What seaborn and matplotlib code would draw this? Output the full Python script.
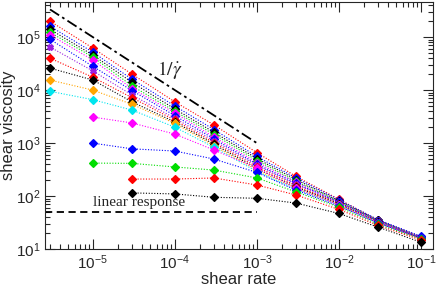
import matplotlib
matplotlib.use('Agg')
import matplotlib.pyplot as plt
import numpy as np
import pandas as pd
import seaborn as sns

# shear rates (columns of the measurement grid)
rates = [3e-6, 1e-5, 3e-5, 1e-4, 3e-4, 1e-3, 3e-3, 1e-2, 3e-2, 1e-1]

# viscosity curves, top to bottom; the lower ones start at higher rates
visc_01 = [2.0e5, 6.2e4, 2.0e4, 6.0e3, 2.2e3, 660, 235, 87, 35, 17]
visc_02 = [1.6e5, 5.2e4, 1.6e4, 5.0e3, 1.8e3, 560, 220, 85, 36, 17.5]
visc_03 = [1.4e5, 4.6e4, 1.4e4, 4.4e3, 1.6e3, 510, 205, 81, 35, 16.5]
visc_04 = [1.23e5, 4.2e4, 1.2e4, 4.0e3, 1.45e3, 470, 190, 79, 34, 16]
visc_05 = [1.1e5, 3.7e4, 1.07e4, 3.7e3, 1.3e3, 430, 182, 77, 34, 16]
visc_06 = [9.1e4, 2.8e4, 9.8e3, 3.3e3, 1.2e3, 400, 174, 76, 34, 16.5]
visc_07 = [6.5e4, 2.3e4, 8.1e3, 2.95e3, 1.1e3, 380, 166, 74, 33, 16.5]
visc_08 = [4.0e4, 1.75e4, 7.2e3, 2.7e3, 1.02e3, 355, 158, 72, 32, 15.8]
visc_09 = [2.6e4, 1.55e4, 6.0e3, 2.5e3, 950, 330, 148, 71, 32, 15.8]
visc_10 = [1.55e4, 1.0e4, 5.4e3, 2.35e3, 890, 310, 141, 69, 31.6, 15.8]
visc_11 = [9.5e3, 6.6e3, 4.2e3, 2.0e3, 830, 290, 135, 68, 31.6, 15.8]
visc_12 = [3.1e3, 2.4e3, 1.48e3, 740, 340, 141, 68, 31.6, 15.8]
visc_13 = [1.0e3, 780, 710, 500, 280, 129, 65, 31, 16.2]
visc_14 = [420, 415, 355, 310, 220, 120, 62, 29.5, 15.5]
visc_15 = [210, 210, 220, 162, 105, 56, 28, 14.8]
visc_16 = [115, 110, 95, 91, 74, 47, 26, 13.5]

curves = [visc_01, visc_02, visc_03, visc_04, visc_05, visc_06, visc_07, visc_08,
          visc_09, visc_10, visc_11, visc_12, visc_13, visc_14, visc_15, visc_16]
colors = ['#ff0000', '#0000ff', '#000000', '#00dd00', '#ff00ff', '#0000ff', '#9a1ee0', '#ff0000',
          '#000000', '#ffa500', '#00e5ee', '#ff00ff', '#0000ff', '#00dd00', '#ff0000', '#000000']
markers = ['D', 'D', 'D', 'D', 'D', 'D', 'X', 'D', 'D', 'D', 'D', 'D', 'D', 'D', 'D', 'D']

guide_x = [3e-6, 1e-3]
linear_x = [2.6e-6, 1e-3]
linear_level = 50


def build_df():
    rows = []
    for i, c in enumerate(curves):
        xs = rates[len(rates) - len(c):]
        for x, v in zip(xs, c):
            rows.append({'curve': i, 'rate': x, 'visc': v})
    return pd.DataFrame(rows)


sns.set_style('ticks')
plt.rcParams['font.family'] = ['Liberation Sans', 'DejaVu Sans']
plt.rcParams['mathtext.fontset'] = 'custom'
plt.rcParams['mathtext.rm'] = 'Liberation Sans'

fig = plt.figure(figsize=(4.36, 2.87), dpi=100)
ax = fig.add_axes([0.103, 0.132, 0.890, 0.861])

df = build_df()
for i in range(len(curves)):
    sub = df[df.curve == i]
    sns.lineplot(data=sub, x='rate', y='visc', color=colors[i], marker=markers[i],
                 linestyle=(0, (1, 1.5)), lw=0.8, markersize=3.8,
                 markeredgecolor=colors[i], markeredgewidth=0.9,
                 ax=ax, legend=False)

gx = np.array(guide_x)
ax.plot(gx, 1.0 / gx, color='black', lw=1.3, linestyle=(0, (6, 2, 1.5, 2)))
ax.plot(linear_x, [linear_level, linear_level], color='black', lw=1.3, linestyle=(0, (4, 2.5)))

ax.text(6e-5, 2.4e4, r'$1/\dot{\gamma}$', fontsize=14, family='Liberation Serif',
        ha='left', va='center', math_fontfamily='stix')
ax.text(1e-5, 75, 'linear response', fontsize=11, family='Liberation Serif',
        ha='left', va='center')

ax.set_xscale('log')
ax.set_yscale('log')
ax.set_xlim(2.6e-6, 0.14)
ax.set_ylim(10, 4.6e5)
ax.set_xlabel('shear rate', fontsize=12, labelpad=0)
ax.set_ylabel('shear viscosity', fontsize=12, labelpad=0)

ax.tick_params(which='both', direction='in', top=True, right=True, labelsize=11, width=0.8)
ax.tick_params(which='major', length=7, pad=3)
ax.tick_params(which='minor', length=3.5)
ax.yaxis.set_major_locator(matplotlib.ticker.LogLocator(base=10, numticks=10))
ax.yaxis.set_minor_locator(matplotlib.ticker.LogLocator(base=10, subs=np.arange(2, 10), numticks=20))
ax.xaxis.set_minor_locator(matplotlib.ticker.LogLocator(base=10, subs=np.arange(2, 10), numticks=20))
for s in ax.spines.values():
    s.set_linewidth(0.8)

fig.savefig('out.png', dpi=100)
